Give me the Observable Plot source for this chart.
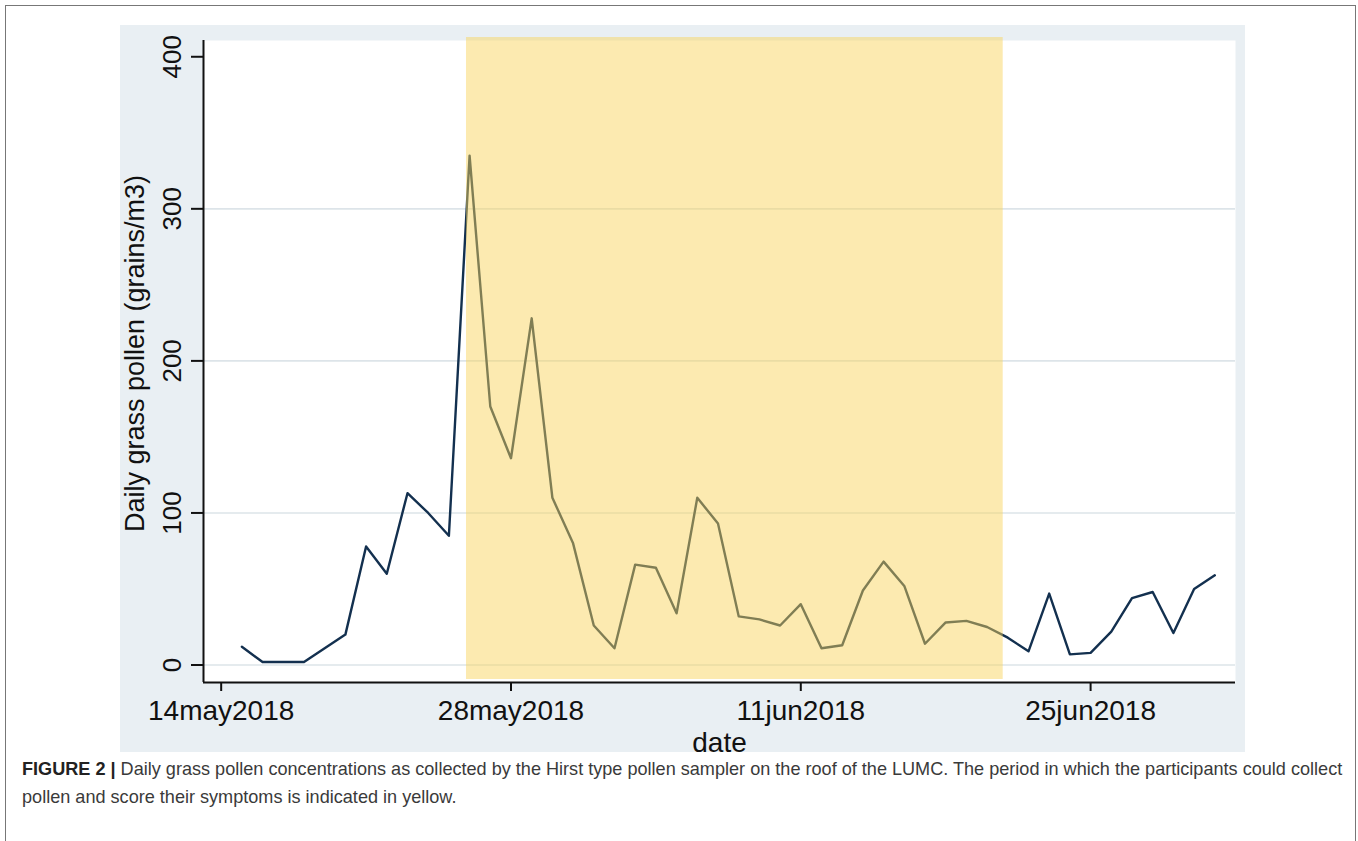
<!DOCTYPE html>
<html>
<head>
<meta charset="utf-8">
<script src="https://cdn.jsdelivr.net/npm/d3@7"></script>
<script src="https://cdn.jsdelivr.net/npm/@observablehq/plot@0.6"></script>
<style>
  html, body { margin: 0; padding: 0; background: #fff; width: 1358px; height: 841px; overflow: hidden; }
  #border { position: absolute; left: 5px; top: 5px; width: 1351px; height: 900px; border: 1.5px solid #777; box-sizing: border-box; }
  #panel { position: absolute; left: 120px; top: 25px; width: 1125px; height: 727px; background: #e9eff3; }
  #chart { position: absolute; left: 0; top: 0; }
  #caption { position: absolute; left: 22px; top: 755px; font-family: "Liberation Sans", Arial, sans-serif; font-size: 18.1px; line-height: 28px; color: #3a3a3a; white-space: nowrap; }
  #caption b { color: #222; }
</style>
</head>
<body>
<div id="border"></div>
<div id="panel"></div>
<div id="chart"></div>
<div id="caption"><b>FIGURE 2 |</b> Daily grass pollen concentrations as collected by the Hirst type pollen sampler on the roof of the LUMC. The period in which the participants could collect<br>pollen and score their symptoms is indicated in yellow.</div>
<script>
// ---- data ----
const dates = [
  "2018-05-15","2018-05-16","2018-05-17","2018-05-18","2018-05-19","2018-05-20","2018-05-21","2018-05-22",
  "2018-05-23","2018-05-24","2018-05-25","2018-05-26","2018-05-27","2018-05-28","2018-05-29","2018-05-30",
  "2018-05-31","2018-06-01","2018-06-02","2018-06-03","2018-06-04","2018-06-05","2018-06-06","2018-06-07",
  "2018-06-08","2018-06-09","2018-06-10","2018-06-11","2018-06-12","2018-06-13","2018-06-14","2018-06-15",
  "2018-06-16","2018-06-17","2018-06-18","2018-06-19","2018-06-20","2018-06-21","2018-06-22","2018-06-23",
  "2018-06-24","2018-06-25","2018-06-26","2018-06-27","2018-06-28","2018-06-29","2018-06-30","2018-07-01"
];
const pollen = [
  12, 2, 2, 2, 11, 20, 78, 60,
  113, 100, 85, 335, 170, 136, 228, 110,
  80, 26, 11, 66, 64, 34, 110, 93,
  32, 30, 26, 40, 11, 13, 49, 68,
  52, 14, 28, 29, 25, 18, 9, 47,
  7, 8, 22, 44, 48, 21, 50, 59
];
const xTickDates = ["2018-05-14","2018-05-28","2018-06-11","2018-06-25"];
const xTickLabels = ["14may2018","28may2018","11jun2018","25jun2018"];
const yTicks = [0, 100, 200, 300, 400];
const yGrid = [0, 100, 200, 300];
const periodStart = "2018-05-25T20:24Z";
const periodEnd = "2018-06-20T18:40Z";
const xDomain = ["2018-05-13T03:30Z", "2018-07-02T00:00Z"];
const yDomain = [-11.5, 410.7];
const yLabel = "Daily grass pollen (grains/m3)";
const xLabel = "date";

// ---- build ----
const data = dates.map((d, i) => ({date: new Date(d), value: pollen[i]}));
const period = [{start: new Date(periodStart), end: new Date(periodEnd)}];
const xd = xDomain.map(d => new Date(d));
const font = "'Liberation Sans', Arial, Helvetica, sans-serif";

const chart = Plot.plot({
  width: 1358,
  height: 760,
  marginLeft: 203,
  marginRight: 123,
  marginTop: 40,
  marginBottom: 78,
  style: {background: "transparent", fontFamily: font, overflow: "visible"},
  x: {type: "utc", domain: xd},
  y: {domain: yDomain},
  marks: [
    Plot.frame({fill: "white", stroke: null}),
    Plot.gridY(yGrid, {stroke: "#dde4e9", strokeOpacity: 1, strokeWidth: 1.6}),
    Plot.line(data, {x: "date", y: "value", stroke: "#13304f", strokeWidth: 2.4}),
    Plot.rect(period, {x1: "start", x2: "end", fill: "#f8d35a", fillOpacity: 0.48, insetTop: -3, insetBottom: 3}),
    Plot.ruleY([yDomain[0]], {stroke: "#111", strokeWidth: 2}),
    Plot.ruleX([xd[0]], {stroke: "#111", strokeWidth: 2}),
    Plot.axisX({ticks: xTickDates.map(d => new Date(d)), tickFormat: (d, i) => xTickLabels[i], tickSize: 9, tickPadding: 9, fontSize: 28, stroke: "#111", strokeWidth: 2, color: "#111", label: null}),
    Plot.axisY({ticks: yTicks, tickSize: 12, tickFormat: () => "", stroke: "#111", strokeWidth: 2, label: null}),
    Plot.text(yTicks, {y: d => d, text: d => String(d), frameAnchor: "left", dx: -31, rotate: -90, fontSize: 26, fill: "#111", textAnchor: "middle", lineAnchor: "middle"}),
    Plot.text([yLabel], {frameAnchor: "left", dx: -68, dy: -8, rotate: -90, fontSize: 27, fill: "#111", textAnchor: "middle", lineAnchor: "middle"}),
    Plot.text([xLabel], {frameAnchor: "bottom", dy: 61, fontSize: 28, fill: "#111", textAnchor: "middle", lineAnchor: "middle"})
  ]
});
document.getElementById("chart").appendChild(chart);
</script>
</body>
</html>
